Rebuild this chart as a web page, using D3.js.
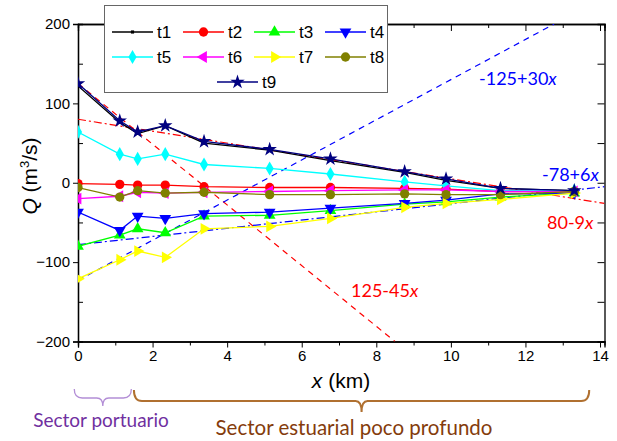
<!DOCTYPE html>
<html>
<head>
<meta charset="utf-8">
<script src="https://cdn.jsdelivr.net/npm/d3@7"></script>
<style>
  body { margin: 0; background: #fff; }
  svg text { font-family: "Liberation Sans", Arial, sans-serif; }
</style>
</head>
<body>
<div class="box"></div>
<script>
// posiciones de los transectos (km)
const xs = [0, 1.12, 1.6, 2.34, 3.38, 5.14, 6.77, 8.76, 9.87, 11.33, 13.31];

// caudales por serie (m3/s)
const t1 = [122, 76, 62, 72, 50, 41, 28, 13, 3, -7, -10];
const t2 = [-1, -2, -3, -3, -5, -6, -6, -7, -8, -11, -11];
const t3 = [-80, -66, -58, -63, -42, -41, -35, -27, -24, -18, -13];
const t4 = [-37, -60, -42, -45, -39, -37, -32, -26, -22, -14, -13];
const t5 = [64, 36, 30, 36, 23, 18, 11, 1, -4, -10, -10];
const t6 = [-20, -17, -12, -13, -12, -11, -10, -9, -9, -11, -11];
const t7 = [-121, -97, -86, -94, -58, -55, -45, -31, -26, -21, -13];
const t8 = [-6, -18, -10, -13, -12, -15, -15, -14, -15, -15, -11];
const t9 = [125, 78, 64, 72, 52, 42, 30, 14, 5, -7, -10];

const seriesNames = ['t1', 't2', 't3', 't4', 't5', 't6', 't7', 't8', 't9'];
const seriesValues = [t1, t2, t3, t4, t5, t6, t7, t8, t9];

// rectas de ajuste: extremos dibujados [x, Q]
const fitRed1 = [[0, 125], [8.5, -200]];      // 125-45x
const fitRed2 = [[0, 80], [14.12, -26]];      // 80-9x
const fitBlue1 = [[0, -123], [12.77, 200]];   // -125+30x
const fitBlue2 = [[0, -78], [14.12, -5]];     // -78+6x

const xTicks = [0, 2, 4, 6, 8, 10, 12, 14];
const yTicks = [-200, -100, 0, 100, 200];

const dims = {width: 617, height: 441, left: 78, right: 604.5, top: 24, bottom: 341.5};

const svg = d3.select('.box')
              .append('svg')
              .attr('width', dims.width)
              .attr('height', dims.height);

const x = d3.scaleLinear().domain([0, 14.12]).range([dims.left, dims.right]);
const y = d3.scaleLinear().domain([-200, 200]).range([dims.bottom, dims.top]);

// estilos de cada serie
const estilos = {
  t1: {color: '#000000', sym: d3.symbolSquare, size: 10, rot: 0},
  t2: {color: '#FF0000', sym: d3.symbolCircle, size: 68, rot: 0},
  t3: {color: '#00FF00', sym: d3.symbolTriangle, size: 60, rot: 0},
  t4: {color: '#0000FF', sym: d3.symbolTriangle, size: 60, rot: 180},
  t5: {color: '#00FFFF', sym: d3.symbolDiamond, size: 58, rot: 0},
  t6: {color: '#FF00FF', sym: d3.symbolTriangle, size: 60, rot: -90},
  t7: {color: '#FFFF00', sym: d3.symbolTriangle, size: 60, rot: 90},
  t8: {color: '#808000', sym: d3.symbolCircle, size: 68, rot: 0},
  t9: {color: '#000080', sym: d3.symbolStar, size: 65, rot: 0}
};

// ejes
const gx = svg.append('g').attr('transform', `translate(0,${dims.bottom})`)
  .call(d3.axisBottom(x).tickValues(xTicks).tickSize(6).tickPadding(3).tickFormat(d3.format('d')));
svg.append('g').attr('transform', `translate(0,${dims.bottom})`)
  .call(d3.axisBottom(x).tickValues(d3.range(1, 14, 2)).tickSize(4).tickFormat(''));
svg.append('g').attr('transform', `translate(0,${dims.top})`)
  .call(d3.axisTop(x).tickValues(xTicks).tickSize(-7).tickFormat(''));
svg.append('g').attr('transform', `translate(0,${dims.top})`)
  .call(d3.axisTop(x).tickValues(d3.range(1, 14, 2)).tickSize(-4).tickFormat(''));
const gy = svg.append('g').attr('transform', `translate(${dims.left},0)`)
  .call(d3.axisLeft(y).tickValues(yTicks).tickSize(5).tickPadding(3));
svg.append('g').attr('transform', `translate(${dims.left},0)`)
  .call(d3.axisLeft(y).tickValues([-150, -50, 50, 150]).tickSize(-5).tickFormat(''));
svg.append('g').attr('transform', `translate(${dims.right},0)`)
  .call(d3.axisRight(y).tickValues(d3.range(-200, 201, 50)).tickSize(-7).tickFormat(''));

svg.selectAll('.domain').attr('stroke', '#000').attr('stroke-width', 1.3);
svg.selectAll('.tick line').attr('stroke', '#000');
gx.selectAll('text').attr('font-size', 15).attr('fill', '#000');
gy.selectAll('text').attr('font-size', 15).attr('fill', '#000');

// rectas de ajuste
svg.append('clipPath').attr('id', 'area')
  .append('rect').attr('x', dims.left).attr('y', dims.top)
  .attr('width', dims.right - dims.left).attr('height', dims.bottom - dims.top);

const recta = d3.line().x(d => x(d[0])).y(d => y(d[1]));
const grafico = svg.append('g').attr('clip-path', 'url(#area)');

grafico.append('path').datum(fitRed1).attr('d', recta)
  .attr('fill', 'none').attr('stroke', '#FF0000').attr('stroke-width', 1.2).attr('stroke-dasharray', '6,5');
grafico.append('path').datum(fitRed2).attr('d', recta)
  .attr('fill', 'none').attr('stroke', '#FF0000').attr('stroke-width', 1.2).attr('stroke-dasharray', '8,3,2,3');
grafico.append('path').datum(fitBlue1).attr('d', recta)
  .attr('fill', 'none').attr('stroke', '#0000FF').attr('stroke-width', 1.2).attr('stroke-dasharray', '6,5');
grafico.append('path').datum(fitBlue2).attr('d', recta)
  .attr('fill', 'none').attr('stroke', '#0000FF').attr('stroke-width', 1.2).attr('stroke-dasharray', '8,3,2,3');

// series
const linea = d3.line().x((d, i) => x(xs[i])).y(d => y(d));
const simbolo = (e) => d3.symbol().type(e.sym).size(e.size)();

seriesNames.forEach((nom, k) => {
  const e = estilos[nom];
  const g = grafico.append('g');
  g.append('path').datum(seriesValues[k]).attr('d', linea)
   .attr('fill', 'none').attr('stroke', e.color).attr('stroke-width', 1.3);
  g.selectAll('path.m').data(seriesValues[k]).enter()
   .append('path').attr('class', 'm')
   .attr('d', simbolo(e))
   .attr('transform', (d, i) => `translate(${x(xs[i])},${y(d)}) rotate(${e.rot})`)
   .attr('fill', e.color);
});

// etiquetas de las rectas
const etiquetas = [
  {txt: '-125+30', x: 479, y: 85, color: '#0000FF'},
  {txt: '-78+6', x: 542, y: 181, color: '#0000FF'},
  {txt: '80-9', x: 547, y: 229, color: '#FF0000'},
  {txt: '125-45', x: 351, y: 297, color: '#FF0000'}
];
etiquetas.forEach(d => {
  const t = svg.append('text').attr('x', d.x).attr('y', d.y)
    .attr('fill', d.color).attr('font-size', 18)
    .style('font-family', 'Lato, "Open Sans", sans-serif');
  t.append('tspan').text(d.txt);
  t.append('tspan').text('x').attr('font-style', 'italic');
});

// leyenda
const leyenda = svg.append('g');
leyenda.append('rect').attr('x', 104.5).attr('y', 5.5).attr('width', 283).attr('height', 87)
  .attr('fill', '#fff').attr('stroke', '#666').attr('stroke-width', 1);
const posLeyenda = [
  [112, 32], [183, 32], [254, 32], [325, 32],
  [112, 57], [183, 57], [254, 57], [325, 57],
  [217, 82]
];
seriesNames.forEach((nom, k) => {
  const e = estilos[nom];
  const [lx, ly] = posLeyenda[k];
  leyenda.append('line').attr('x1', lx).attr('x2', lx + 41).attr('y1', ly).attr('y2', ly)
    .attr('stroke', e.color).attr('stroke-width', 1.3);
  leyenda.append('path').attr('d', simbolo(e))
    .attr('transform', `translate(${lx + 20.5},${ly}) rotate(${e.rot})`).attr('fill', e.color);
  leyenda.append('text').attr('x', lx + 45).attr('y', ly + 6).attr('font-size', 17)
    .text(nom);
});

// títulos de ejes
const ty = svg.append('text').attr('transform', 'translate(37,176) rotate(-90)')
  .attr('text-anchor', 'middle').attr('font-size', 21);
ty.append('tspan').text('Q').attr('font-style', 'italic');
ty.append('tspan').text(' (m');
ty.append('tspan').text('3').attr('font-size', 13).attr('dy', -8);
ty.append('tspan').text('/s)').attr('dy', 8);

const tx = svg.append('text').attr('x', 341).attr('y', 388)
  .attr('text-anchor', 'middle').attr('font-size', 21);
tx.append('tspan').text('x').attr('font-style', 'italic');
tx.append('tspan').text(' (km)');

// llaves de sectores
const llave = (x1, x2, yTop, yMid, yTip) => {
  const xm = (x1 + x2) / 2;
  return `M${x1},${yTop} Q${x1},${yMid} ${x1 + 8},${yMid} L${xm - 6},${yMid} Q${xm},${yMid} ${xm},${yTip}` +
         ` Q${xm},${yMid} ${xm + 6},${yMid} L${x2 - 8},${yMid} Q${x2},${yMid} ${x2},${yTop}`;
};
svg.append('path').attr('d', llave(x(-0.1), x(1.43), 389, 398, 406))
  .attr('fill', 'none').attr('stroke', '#B38ED6').attr('stroke-width', 1.3);
svg.append('path').attr('d', llave(x(1.5), x(13.71), 390, 401, 412))
  .attr('fill', 'none').attr('stroke', '#B07030').attr('stroke-width', 2);

svg.append('text').attr('x', 101).attr('y', 427).attr('text-anchor', 'middle')
  .attr('font-size', 19).attr('fill', '#7030A0')
  .style('font-family', 'Lato, "Open Sans", sans-serif').text('Sector portuario');
svg.append('text').attr('x', 354).attr('y', 435).attr('text-anchor', 'middle')
  .attr('font-size', 20.5).attr('fill', '#843C0C')
  .style('font-family', 'Lato, "Open Sans", sans-serif').text('Sector estuarial poco profundo');
</script>
</body>
</html>
